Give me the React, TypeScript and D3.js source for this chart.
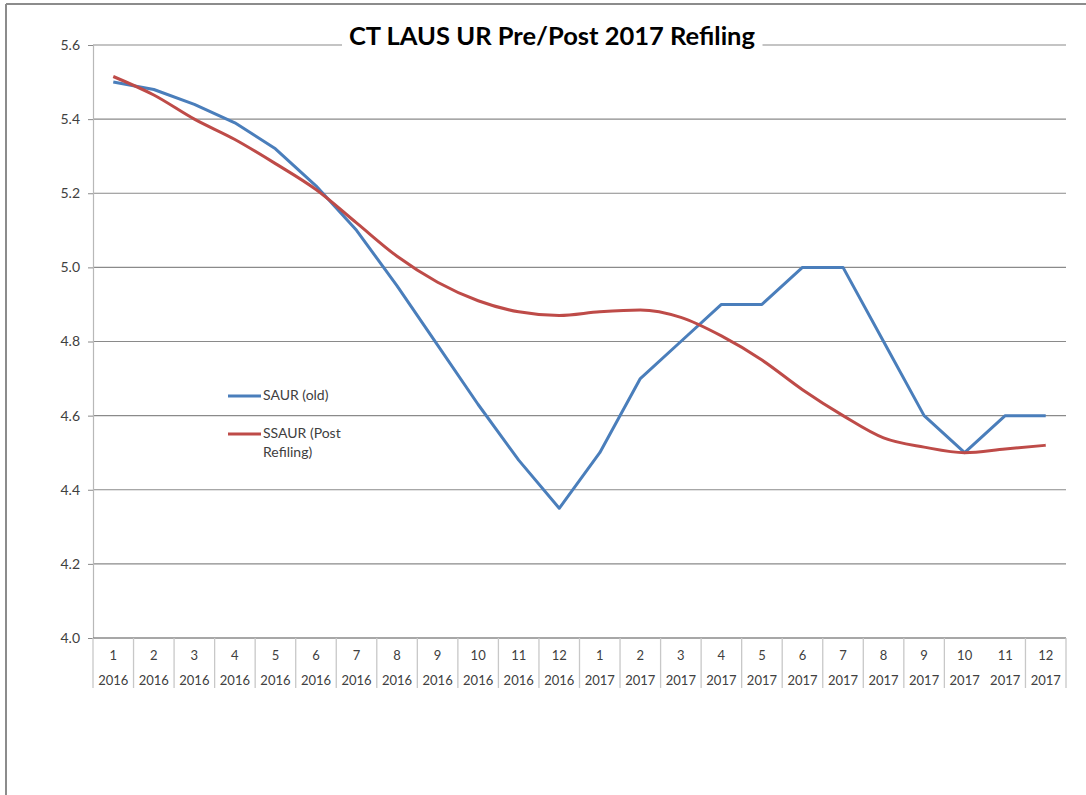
import * as d3 from "d3";
import { useEffect, useRef } from "react";

// month / year labels for the category axis
const months = ["1", "2", "3", "4", "5", "6", "7", "8", "9", "10", "11", "12",
  "1", "2", "3", "4", "5", "6", "7", "8", "9", "10", "11", "12"];
const years = ["2016", "2016", "2016", "2016", "2016", "2016", "2016", "2016", "2016", "2016", "2016", "2016",
  "2017", "2017", "2017", "2017", "2017", "2017", "2017", "2017", "2017", "2017", "2017", "2017"];

// SAUR (old)
const saurOld = [5.5, 5.48, 5.44, 5.39, 5.32, 5.22, 5.1, 4.95, 4.79, 4.63, 4.48, 4.35,
  4.5, 4.7, 4.8, 4.9, 4.9, 5.0, 5.0, 4.8, 4.6, 4.5, 4.6, 4.6];
// SSAUR (Post Refiling)
const ssaurPost = [5.515, 5.465, 5.4, 5.345, 5.28, 5.21, 5.12, 5.03, 4.96, 4.91, 4.88, 4.87,
  4.88, 4.885, 4.865, 4.815, 4.75, 4.67, 4.6, 4.54, 4.515, 4.5, 4.51, 4.52];

const yTicks = [4.0, 4.2, 4.4, 4.6, 4.8, 5.0, 5.2, 5.4, 5.6];

const App = () => {
  const ref = useRef<SVGSVGElement>(null);

  useEffect(() => {
    const svg = d3.select(ref.current);
    svg.selectAll("*").remove();

    const width = 1086;
    const height = 795;
    const left = 93;
    const right = 1066;
    const top = 45;
    const bottom = 638;
    const font = "Lato, 'Open Sans', sans-serif";

    svg.attr("width", width).attr("height", height);

    svg.append("rect").attr("width", width).attr("height", height).attr("fill", "#fff");

    // outer frame (left + top edges)
    svg.append("line").attr("x1", 6).attr("x2", 6).attr("y1", 4).attr("y2", height)
      .attr("stroke", "#8c8c8c").attr("stroke-width", 2);
    svg.append("line").attr("x1", 6).attr("x2", width).attr("y1", 4).attr("y2", 4)
      .attr("stroke", "#8c8c8c").attr("stroke-width", 2);

    const idx = d3.range(months.length);
    const x = d3.scaleBand<number>().domain(idx).range([left, right]);
    const y = d3.scaleLinear().domain([4.0, 5.6]).range([bottom, top]);

    // gridlines
    svg.append("g").selectAll("line")
      .data(yTicks.slice(1))
      .join("line")
      .attr("x1", left).attr("x2", right)
      .attr("y1", (d) => y(d)).attr("y2", (d) => y(d))
      .attr("stroke", "#8a8a8a").attr("stroke-width", 1.2);

    // y axis
    const yAxis = svg.append("g")
      .attr("transform", `translate(${left},0)`)
      .call(d3.axisLeft(y).tickValues(yTicks).tickFormat(d3.format(".1f")).tickSize(5).tickPadding(8));
    yAxis.select(".domain").attr("stroke", "#b8b8b8").attr("stroke-width", 1.2);
    yAxis.selectAll(".tick line").attr("stroke", "#8a8a8a");
    yAxis.selectAll("text").attr("font-family", font).attr("font-size", 14).attr("fill", "#404040");

    // x axis baseline
    svg.append("line").attr("x1", left).attr("x2", right).attr("y1", bottom).attr("y2", bottom)
      .attr("stroke", "#8a8a8a").attr("stroke-width", 1.5);

    // category separators (one is skipped between 10 and 11 of 2017, as in the source)
    const seps = d3.range(months.length + 1).filter((i) => i !== 22);
    svg.append("g").selectAll("line")
      .data(seps)
      .join("line")
      .attr("x1", (i) => (i < months.length ? x(i)! : right))
      .attr("x2", (i) => (i < months.length ? x(i)! : right))
      .attr("y1", bottom).attr("y2", 688)
      .attr("stroke", "#c8c8c8").attr("stroke-width", 1.3);

    const labels = svg.append("g").attr("font-family", font).attr("font-size", 13).attr("fill", "#404040")
      .attr("text-anchor", "middle");
    labels.selectAll("text.m").data(idx).join("text").attr("class", "m")
      .attr("x", (i) => x(i)! + x.bandwidth() / 2).attr("y", 660)
      .text((i) => months[i]);
    labels.selectAll("text.yr").data(idx).join("text").attr("class", "yr")
      .attr("x", (i) => x(i)! + x.bandwidth() / 2).attr("y", 685)
      .text((i) => years[i]);

    // title with white background breaking the top gridline
    const titleBg = svg.append("rect").attr("fill", "#fff");
    const title = svg.append("text")
      .attr("x", 552).attr("y", 45)
      .attr("text-anchor", "middle")
      .attr("font-family", font).attr("font-weight", 700).attr("font-size", 25.5)
      .attr("fill", "#000")
      .text("CT LAUS UR Pre/Post 2017 Refiling");
    const bb = (title.node() as SVGTextElement).getBBox();
    titleBg.attr("x", bb.x - 7).attr("y", bb.y).attr("width", bb.width + 14).attr("height", bb.height);

    const cx = (i: number) => x(i)! + x.bandwidth() / 2;

    // lines
    const lineLinear = d3.line<number>().x((_, i) => cx(i)).y((d) => y(d));
    const lineSmooth = d3.line<number>().x((_, i) => cx(i)).y((d) => y(d)).curve(d3.curveMonotoneX);

    svg.append("path").datum(saurOld).attr("d", lineLinear)
      .attr("fill", "none").attr("stroke", "#4a7ebb").attr("stroke-width", 3).attr("stroke-linejoin", "round");
    svg.append("path").datum(ssaurPost).attr("d", lineSmooth)
      .attr("fill", "none").attr("stroke", "#be4b48").attr("stroke-width", 3).attr("stroke-linejoin", "round");

    // legend
    const legend = svg.append("g").attr("font-family", font).attr("font-size", 14).attr("fill", "#404040");
    legend.append("line").attr("x1", 228).attr("x2", 261).attr("y1", 396).attr("y2", 396)
      .attr("stroke", "#4a7ebb").attr("stroke-width", 3);
    legend.append("text").attr("x", 263).attr("y", 400).text("SAUR (old)");
    legend.append("line").attr("x1", 228).attr("x2", 261).attr("y1", 434).attr("y2", 434)
      .attr("stroke", "#be4b48").attr("stroke-width", 3);
    legend.append("text").attr("x", 263).attr("y", 438).text("SSAUR (Post");
    legend.append("text").attr("x", 263).attr("y", 457).text("Refiling)");
  }, []);

  return <svg ref={ref} style={{ position: "absolute", left: 0, top: 0, display: "block" }}></svg>;
};

export default App;
